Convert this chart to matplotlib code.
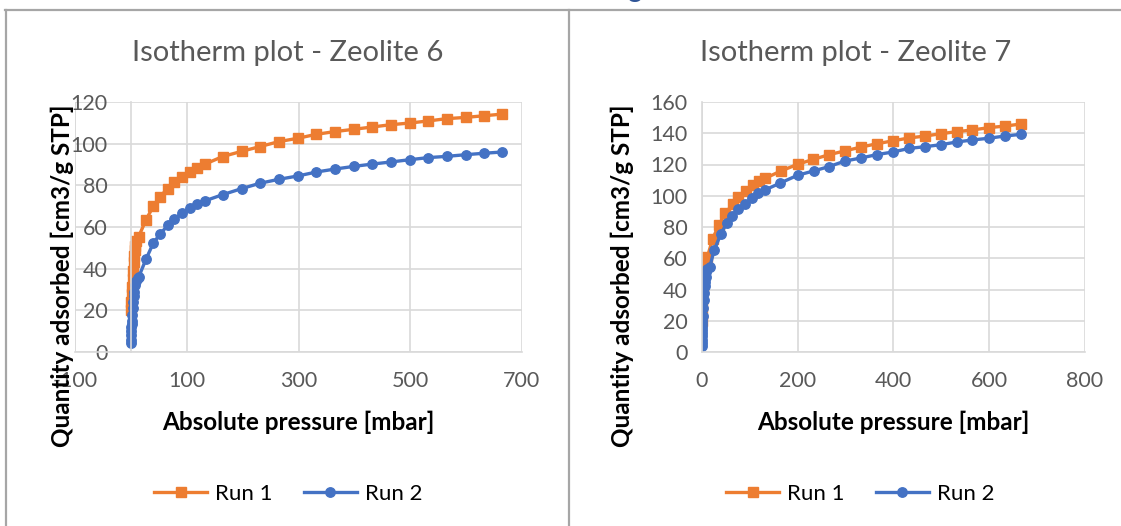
"""Isotherm plots for two zeolites, two runs each (Excel-style layout)."""

import matplotlib
matplotlib.use("Agg")
import matplotlib.pyplot as plt
from matplotlib.lines import Line2D

plt.rcParams['font.family'] = ['Lato', 'DejaVu Sans']

ORANGE = "#ED7D31"
BLUE = "#4472C4"
GRID = "#D9D9D9"
TXT = "#595959"

# Zeolite 6 - Run 1
z6_run1_p = [0.5, 1, 1.5, 2, 3, 4, 5, 6, 7, 8, 10, 14, 27, 40, 52, 66, 78, 92, 106, 119,
             132, 164, 198, 231, 265, 299, 332, 365, 399, 432, 465, 499, 532, 565, 599, 632, 665]
z6_run1_q = [20, 24, 28, 31, 35, 39, 43, 46, 49, 51, 53.5, 55.4, 63.4, 69.9, 74.6, 78.4, 81.4, 84.2,
             86.5, 88.5, 90.1, 93.8, 96.3, 98.6, 101, 102.6, 104.5, 105.8, 106.9, 108, 109.1, 109.9,
             110.9, 112, 112.6, 113.4, 114.2]
# Zeolite 6 - Run 2
z6_run2_p = [0.3, 0.5, 0.6, 0.8, 1, 1.2, 1.5, 2, 3, 4, 5, 6, 8, 10, 12, 14, 27, 40, 52, 66, 78,
             92, 106, 119, 132, 164, 198, 231, 265, 299, 332, 365, 399, 432, 465, 499, 532, 565,
             599, 632, 665]
z6_run2_q = [4.5, 6, 8, 10, 12, 13.5, 15, 18, 21, 24, 27, 29, 32, 34, 35.5, 36, 44.5, 52.2, 56.5,
             60.8, 64, 66.6, 69.1, 71.2, 72.5, 75.5, 78.4, 81, 82.9, 84.5, 86.4, 87.8, 89.1, 90.2,
             91.2, 92.3, 93.3, 93.9, 94.7, 95.4, 96]

# Zeolite 7 - Run 1
z7_run1_p = [0.3, 0.5, 1, 1.5, 2, 3, 4, 5, 7, 9, 12, 23, 36, 49, 65, 76, 92, 108, 120, 132, 165,
             200, 233, 266, 300, 333, 366, 400, 433, 466, 499, 532, 565, 600, 633, 666]
z7_run1_q = [20, 25, 30, 35, 40, 45, 50, 54, 58, 60, 61, 72.5, 81.5, 88.8, 94.5, 99, 103.3, 107.1,
             109.6, 111.1, 115.8, 120.1, 123.3, 126.3, 128.8, 131.2, 133.3, 135.2, 137, 138.2,
             139.7, 141, 142.1, 143.6, 144.6, 145.9]
# Zeolite 7 - Run 2
z7_run2_p = [0.2, 0.3, 0.4, 0.5, 0.6, 0.8, 1, 1.2, 1.5, 2, 3, 4, 5, 6, 7, 8, 10, 12, 17, 26, 40,
             52, 63, 75, 90, 106, 118, 132, 163, 200, 235, 265, 299, 333, 365, 399, 433, 466, 500,
             532, 565, 599, 632, 666]
z7_run2_q = [4, 6, 8, 10, 12, 14, 16, 18, 20, 23, 28, 33, 38, 42, 45, 48, 51, 53, 54.6, 65.1, 75.5,
             82.3, 87, 91.5, 94.9, 98.4, 101.6, 103.7, 108, 113.1, 116, 118.6, 122.2, 124.2, 126.3,
             128, 130.3, 131.4, 132.7, 134.4, 135.7, 136.8, 138.2, 139.3]

titles = ["Isotherm plot - Zeolite 6", "Isotherm plot - Zeolite 7"]
run_labels = ["Run 1", "Run 2"]
z6_xticks = [-100, 100, 300, 500, 700]
z6_xticklabels = ["-100", "100", "300", "500", "700"]
z6_yticks = [0, 20, 40, 60, 80, 100, 120]
z7_xticks = [0, 200, 400, 600, 800]
z7_yticks = [0, 20, 40, 60, 80, 100, 120, 140, 160]

W, H = 1121, 526
fig = plt.figure(figsize=(W / 100, H / 100), dpi=100)


def style_axes(ax, title, title_x):
    ax.grid(True, color=GRID, linewidth=1.2)
    ax.set_axisbelow(True)
    for s in ["top", "right"]:
        ax.spines[s].set_visible(False)
    ax.spines["bottom"].set_color(GRID)
    ax.spines["bottom"].set_linewidth(1.2)
    ax.spines["left"].set_color(GRID)
    ax.spines["left"].set_linewidth(1.2)
    ax.tick_params(length=0, labelsize=15.5, labelcolor=TXT)
    ax.set_xlabel("Absolute pressure [mbar]", fontsize=17.5, fontweight="bold")
    ax.set_ylabel("Quantity adsorbed [cm3/g STP]", fontsize=17.5, fontweight="bold")
    ax.xaxis.label.set_va("center")
    ax.yaxis.label.set_va("center")
    fig.text(title_x, 1 - 53 / H, title, ha="center", va="center", fontsize=21, color=TXT)


def plot_runs(ax, p1, q1, p2, q2):
    ax.plot(p1, q1, color=ORANGE, marker="s", markersize=6.8, linewidth=2.4, label=run_labels[0])
    ax.plot(p2, q2, color=BLUE, marker="o", markersize=6.8, linewidth=2.4, label=run_labels[1])


legend_kw = dict(loc="center", ncol=2, frameon=False, fontsize=16, handlelength=2.4,
                 columnspacing=1.4, handletextpad=0.35)

# left chart: Zeolite 6
ax1 = fig.add_axes([75 / W, 1 - 352 / H, (522 - 75) / W, 250 / H])
plot_runs(ax1, z6_run1_p, z6_run1_q, z6_run2_p, z6_run2_q)
ax1.set_xlim(-100, 700)
ax1.set_ylim(0, 120)
ax1.set_xticks(z6_xticks)
ax1.set_xticklabels(z6_xticklabels)
ax1.set_yticks(z6_yticks)
style_axes(ax1, titles[0], 288 / W)
ax1.spines["left"].set_position(("data", 0))
ax1.axvline(-100, color=GRID, linewidth=1.2, zorder=0)
ax1.tick_params(axis="y", pad=17)
ax1.tick_params(axis="x", pad=14)
ax1.xaxis.set_label_coords(0.499, -0.28)
ax1.yaxis.set_label_coords(-0.029, 0.304)
ax1.legend(bbox_to_anchor=(0.477, -0.568), **legend_kw)

# right chart: Zeolite 7
ax2 = fig.add_axes([701.7 / W, 1 - 352 / H, (1085 - 701.7) / W, 250 / H])
plot_runs(ax2, z7_run1_p, z7_run1_q, z7_run2_p, z7_run2_q)
ax2.set_xlim(0, 800)
ax2.set_ylim(0, 160)
ax2.set_xticks(z7_xticks)
ax2.set_yticks(z7_yticks)
style_axes(ax2, titles[1], 856 / W)
ax2.tick_params(axis="y", pad=10)
ax2.tick_params(axis="x", pad=14)
ax2.xaxis.set_label_coords(0.499, -0.28)
ax2.yaxis.set_label_coords((622 - 701.7) / 383.3, 0.304)
ax2.legend(bbox_to_anchor=(0.413, -0.568), **legend_kw)

# chart frames
frame = dict(color="#A6A6A6", linewidth=1.6, transform=fig.transFigure)
fig.add_artist(Line2D([5 / W, 1], [1 - 10 / H, 1 - 10 / H], **frame))
fig.add_artist(Line2D([6 / W, 6 / W], [0, 1 - 10 / H], **frame))
fig.add_artist(Line2D([569 / W, 569 / W], [0, 1 - 10 / H], **frame))

# clipped heading fragment at the very top
fig.text(634 / W, 1 + 3 / H, "g", ha="center", va="baseline", fontsize=20, color="#2F5597")

fig.savefig("out.png", dpi=100, facecolor="white")
